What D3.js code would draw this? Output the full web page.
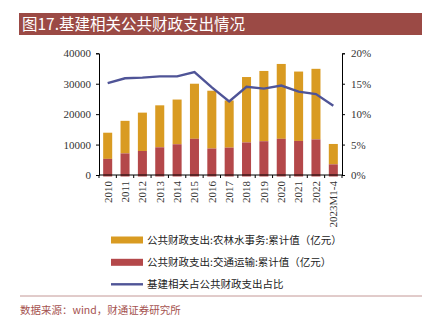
<!DOCTYPE html>
<html>
<head>
<meta charset="utf-8">
<script src="https://cdn.jsdelivr.net/npm/d3@7"></script>
<style>
  body { margin: 0; background: #fff; }
  text { font-family: "Liberation Serif", "Noto Sans CJK SC", serif; }
  .cjk { font-family: "Noto Sans CJK SC", sans-serif; }
</style>
</head>
<body>
<div id="chart-area"></div>
<script>
const years = ["2010", "2011", "2012", "2013", "2014", "2015", "2016", "2017", "2018", "2019", "2020", "2021", "2022", "2023M1-4"];
// 交通运输 (red, bottom)
const transport = [5300, 7100, 7900, 9100, 10100, 11900, 8700, 9000, 10700, 11100, 11900, 11200, 11700, 3500];
// 农林水事务 (yellow, stacked on top)
const agriculture = [8600, 10700, 12600, 13800, 14700, 18100, 19000, 15500, 21500, 23100, 24600, 22800, 23200, 6700];
// 占比 (%)
const share = [15.1, 15.9, 16.0, 16.2, 16.2, 16.9, 14.4, 12.1, 14.5, 14.2, 14.7, 13.7, 13.3, 11.4];
const leftTicks = [0, 10000, 20000, 30000, 40000];
const rightTicks = [0, 5, 10, 15, 20];

const seriesNames = ["公共财政支出:农林水事务:累计值（亿元）", "公共财政支出:交通运输:累计值（亿元）", "基建相关占公共财政支出占比"];
const colors = { agri: "#d99b22", trans: "#b4484a", line: "#4f5497" };

const W = 422, H = 330;
const plot = { left: 99, right: 342, top: 53.3, bottom: 175 };

const svg = d3.select("#chart-area").append("svg")
  .attr("width", W).attr("height", H);

// title bar
svg.append("rect").attr("x", 19).attr("y", 13).attr("width", W - 19).attr("height", 22)
  .attr("fill", "#9b4a45");
svg.append("text").attr("class", "cjk").attr("x", 22).attr("y", 30)
  .attr("font-size", 15.5).attr("fill", "#fff").text("图17.基建相关公共财政支出情况");

const x = d3.scaleBand().domain(years).range([plot.left, plot.right])
  .paddingInner(0.48).paddingOuter(0.24);
const yL = d3.scaleLinear().domain([0, 40000]).range([plot.bottom, plot.top]);
const yR = d3.scaleLinear().domain([0, 20]).range([plot.bottom, plot.top]);

const data = years.map((y, i) => ({ year: y, trans: transport[i], agri: agriculture[i], share: share[i] }));

// bars
const g = svg.append("g");
g.selectAll(".agri").data(data).enter().append("rect")
  .attr("x", d => x(d.year)).attr("width", x.bandwidth())
  .attr("y", d => yL(d.trans + d.agri))
  .attr("height", d => yL(d.trans) - yL(d.trans + d.agri))
  .attr("fill", colors.agri);
g.selectAll(".trans").data(data).enter().append("rect")
  .attr("x", d => x(d.year)).attr("width", x.bandwidth())
  .attr("y", d => yL(d.trans))
  .attr("height", d => yL(0) - yL(d.trans) + 1.5)
  .attr("fill", colors.trans);

// line
const line = d3.line().x(d => x(d.year) + x.bandwidth() / 2).y(d => yR(d.share));
svg.append("path").datum(data).attr("d", line)
  .attr("fill", "none").attr("stroke", colors.line).attr("stroke-width", 2.4);

// axes
const leftAxis = svg.append("g").attr("transform", `translate(${plot.left},0)`)
  .call(d3.axisLeft(yL).tickValues(leftTicks).tickSize(3).tickPadding(5).tickFormat(d3.format("d")));
const rightAxis = svg.append("g").attr("transform", `translate(${plot.right},0)`)
  .call(d3.axisRight(yR).tickValues(rightTicks).tickSize(3).tickPadding(6).tickFormat(d => d + "%"));
const bottomAxis = svg.append("g").attr("transform", `translate(0,${plot.bottom})`)
  .call(d3.axisBottom(x).tickSize(0).tickPadding(0));
bottomAxis.selectAll(".tick text")
  .attr("transform", "rotate(-90)")
  .attr("text-anchor", "end")
  .attr("x", -6).attr("y", 0).attr("dy", "0.35em");

// category boundary ticks
const step = x.step();
svg.append("g").selectAll("line").data(d3.range(years.length + 1)).enter().append("line")
  .attr("x1", i => plot.left + i * step).attr("x2", i => plot.left + i * step)
  .attr("y1", plot.bottom).attr("y2", plot.bottom + 3)
  .attr("stroke", "#000").attr("stroke-width", 1);

[leftAxis, rightAxis, bottomAxis].forEach(a => {
  a.select(".domain").attr("stroke", "#000");
  a.selectAll(".tick line").attr("stroke", "#000");
  a.selectAll(".tick text").attr("font-size", 11).attr("fill", "#333")
    .style("font-family", "Liberation Serif");
});
bottomAxis.select(".domain").attr("d", `M${plot.left},0H${plot.right}`);

// legend
const legend = svg.append("g");
const legendY = [240, 262.3];
[colors.agri, colors.trans].forEach((c, i) => {
  legend.append("rect").attr("x", 111).attr("y", legendY[i] - 3.5).attr("width", 32).attr("height", 7)
    .attr("fill", c);
});
legend.append("line").attr("x1", 111).attr("x2", 143).attr("y1", 284.3).attr("y2", 284.3)
  .attr("stroke", colors.line).attr("stroke-width", 2.4);
[240, 262.3, 284.3].forEach((yy, i) => {
  legend.append("text").attr("class", "cjk").attr("x", 147).attr("y", yy).attr("dy", "0.36em")
    .attr("font-size", 10.5).attr("fill", "#222").text(seriesNames[i]);
});

// source
svg.append("line").attr("x1", 20).attr("x2", W).attr("y1", 296).attr("y2", 296)
  .attr("stroke", "#c49896").attr("stroke-width", 1);
svg.append("text").attr("class", "cjk").attr("x", 20).attr("y", 310).attr("dy", "0.36em")
  .attr("font-size", 10.5).attr("fill", "#a5524f").text("数据来源：wind，财通证券研究所");
</script>
</body>
</html>
